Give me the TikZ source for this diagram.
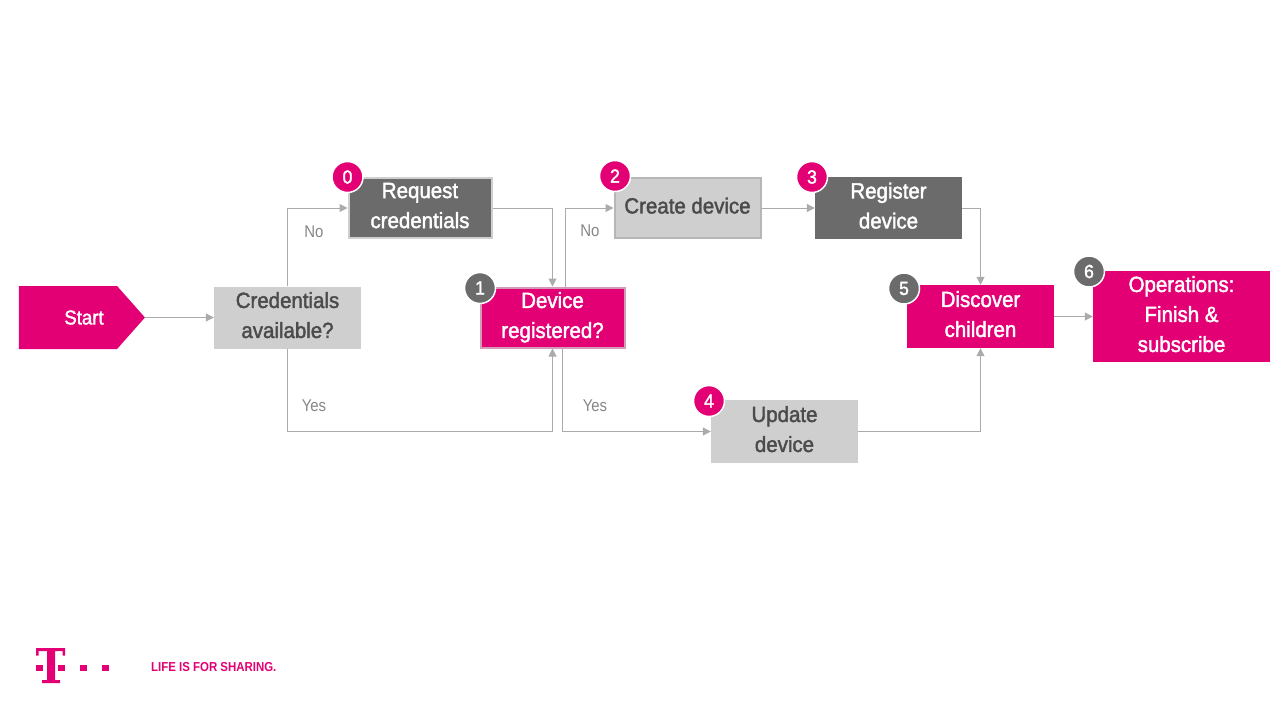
\documentclass[tikz,border=0pt]{standalone}
\usepackage{fontspec}
\setmainfont[FakeStretch=0.88]{Liberation Sans}
\newfontfamily\boxfont[FakeStretch=0.93,FakeBold=1.8]{Liberation Sans}
\usepackage{tikz}
\usetikzlibrary{positioning, arrows.meta, shapes.symbols}
\definecolor{tmagenta}{HTML}{E20074}
\definecolor{tdark}{HTML}{6B6B6B}
\definecolor{tlight}{HTML}{CFCFCF}
\definecolor{tline}{HTML}{ABABAB}
\definecolor{ttext}{HTML}{4B4B4B}
\begin{document}
\begin{tikzpicture}[x=1pt,y=-1pt,
box/.style={rectangle,minimum width=147pt,minimum height=62pt,inner sep=0pt,align=center,
font=\fontsize{22}{30}\boxfont,execute at end node={\rule[-5pt]{0pt}{5pt}}},
pink/.style={box,fill=tmagenta,text=white},
dark/.style={box,fill=tdark,text=white},
light/.style={box,fill=tlight,text=ttext},
edged/.style={draw=#1,line width=2pt},
badge/.style={draw=white,line width=1.5pt,circle,minimum size=31pt,inner sep=0pt,text=white,
font=\fontsize{19}{19}\boxfont},
conn/.style={draw=tline,line width=1pt,-{Triangle[length=8pt,width=8pt]}},
lab/.style={text=gray!95,inner sep=0pt,font=\fontsize{17}{17}\selectfont}]
\useasboundingbox (0,0) rectangle (1280,720);

\node[signal,signal to=east,signal pointer angle=97,fill=tmagenta,text=white,minimum width=126pt,
  minimum height=63pt,inner sep=0pt,font=\fontsize{20}{20}\boxfont] (start) at (68,317.5) {\hspace{32pt}Start};
\node[light] (cred) at (287.5,317.5) {Credentials\\available?};
\node[dark,edged=tlight,minimum width=143pt,minimum height=60pt] (req) at (420,208) {Request\\credentials};
\node[pink,edged=tmagenta!25!tlight,minimum width=144pt,minimum height=60pt] (devreg) at (552.5,317.5) {Device\\registered?};
\node[light,edged=tline!70!tlight,minimum width=146pt,minimum height=60pt] (create) at (687.5,208) {Create device};
\node[dark] (register) at (888.5,208) {Register\\device};
\node[light,minimum height=63pt] (update) at (784.5,431.5) {Update\\device};
\node[pink,minimum height=63pt] (discover) at (980.5,316.5) {Discover\\children};
\node[pink,minimum width=177pt,minimum height=91pt] (ops) at (1181.5,316.5) {Operations:\\Finish \&\\subscribe};

\node[badge,fill=tmagenta] (b0) at (347.5,177) {0};
\node[badge,fill=tdark] (b1) at (480,288) {1};
\node[badge,fill=tmagenta] (b2) at (615,176) {2};
\node[badge,fill=tmagenta] (b3) at (812,177) {3};
\node[badge,fill=tmagenta] (b4) at (709,401) {4};
\node[badge,fill=tdark] (b5) at (904,288.5) {5};
\node[badge,fill=tdark] (b6) at (1089,271.5) {6};

\draw[conn] (start.east) -- (cred.west);
\draw[conn] (cred.north) |- (req.west);
\draw[conn] (req.east) -| (devreg.north);
\draw[conn] (cred.south) -- ++(0,83) -| (devreg.south);
\draw[conn] ([xshift=12.5pt]devreg.north) |- (create.west);
\draw[conn] ([xshift=10pt]devreg.south) |- (update.west);
\draw[conn] (create.east) -- (register.west);
\draw[conn] (register.east) -| (discover.north);
\draw[conn] (update.east) -| (discover.south);
\draw[conn] (discover.east) -- (ops.west);

\node[lab] (no1) at (314,232) {No};
\node[lab] (no2) at (590,231) {No};
\node[lab] (yes1) at (314,406) {Yes};
\node[lab] (yes2) at (595,406) {Yes};

\fill[tmagenta] (36,648) -- (65,648) -- (65,655.5) -- (62.5,655.5) -- (62.5,651) -- (55,651) -- (55,680)
  -- (60,680) -- (60,683) -- (42,683) -- (42,680) -- (47,680) -- (47,651) -- (38.5,651) -- (38.5,655.5) -- (36,655.5) -- cycle;
\foreach \dotx in {36,58,80,102}
  \fill[tmagenta] (\dotx,664.5) rectangle ++(7.3,6);
\node[anchor=west,inner sep=0pt,text=tmagenta,font=\fontsize{13}{13}\selectfont\bfseries] (slogan) at (151,667) {LIFE IS FOR SHARING.};
\end{tikzpicture}
\end{document}
